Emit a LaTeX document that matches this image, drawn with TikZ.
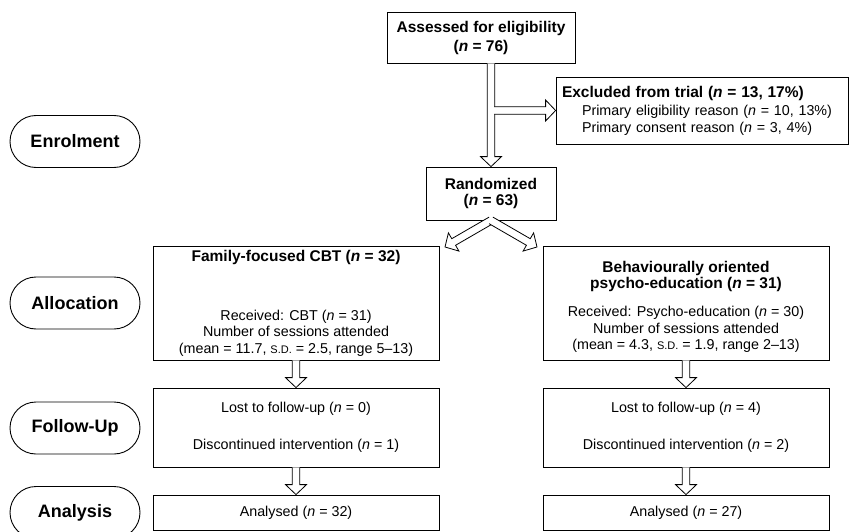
\documentclass[tikz,border=0pt]{standalone}
\usepackage{fontspec}
\setmainfont{Liberation Sans}
\usetikzlibrary{calc}

\newcommand{\bodyfont}{\fontsize{14.3}{16.5}\selectfont}
\newcommand{\hd}{\fontsize{15.5}{17}\selectfont\bfseries}
\newcommand{\nn}{\textit{n}}
\newcommand{\sdev}{{\fontsize{11}{12}\selectfont S.D.}}

\tikzset{
	box/.style={draw, line width=0.8pt, inner sep=0pt, align=center, font=\bodyfont},
	pill/.style={draw, line width=0.9pt, rounded corners=26pt, minimum width=130pt, minimum height=52pt, inner sep=0pt, font=\fontsize{18}{20}\selectfont\bfseries},
	hollow/.style={draw, fill=white, line width=0.8pt, line join=miter, to path={
		let \p1=(\tikztostart), \p2=(\tikztotarget),
		\n1={atan2(\y2-\y1,\x2-\x1)}, \n2={veclen(\x2-\x1,\y2-\y1)} in
		($(\p1)+(\n1:#1)+(\n1+90:3.8)$) -- ($(\p1)+(\n1:{\n2-10})+(\n1+90:3.8)$)
		-- ($(\p1)+(\n1:{\n2-10})+(\n1+90:10.5)$) -- (\p2)
		-- ($(\p1)+(\n1:{\n2-10})+(\n1-90:10.5)$) -- ($(\p1)+(\n1:{\n2-10})+(\n1-90:3.8)$)
		-- ($(\p1)+(\n1:#1)+(\n1-90:3.8)$)}},
	hollow/.default=0
}

\begin{document}
\begin{tikzpicture}[x=1pt, y=1pt]
	\useasboundingbox (0,0) rectangle (851,-532);

	% stages
	\node[pill] (enrol) at (75,-141.5) {Enrolment};
	\node[pill] (alloc) at (75,-303) {Allocation};
	\node[pill] (follow) at (75,-428) {Follow-Up};
	\node[pill] (analysis) at (75,-512.5) {Analysis};

	\node[box, minimum width=188pt, minimum height=51pt] (assess) at (481,-37.5)
		{{\hd Assessed for eligibility}\\[2.5pt]{\hd(\nn{} = 76)}};
	\node[box, align=left, text width=280pt, minimum width=292pt, minimum height=67pt] (excl) at (702,-110.5)
		{{\hd Excluded from trial (\nn{} = 13, 17\%)}\\[1.5pt]
		\hspace*{20pt}Primary eligibility reason (\nn{} = 10, 13\%)\\[0.5pt]
		\hspace*{20pt}Primary consent reason (\nn{} = 3, 4\%)};
	\node[box, minimum width=130pt, minimum height=53pt] (rand) at (491,-193.5)
		{{\hd Randomized}\\{\hd(\nn{} = 63)}};

	\node[box, minimum width=286pt, minimum height=114pt] (cbt) at (296,-303)
		{{\hd Family-focused CBT (\nn{} = 32)}\\[42.5pt]
		Received: CBT (\nn{} = 31)\\
		Number of sessions attended\\
		(mean = 11.7, \sdev{} = 2.5, range 5--13)};
	\node[box, minimum width=286pt, minimum height=114pt] (psy) at (686,-303)
		{{\hd\rule{0pt}{19pt}Behaviourally oriented}\\{\hd psycho-education (\nn{} = 31)}\\[11.5pt]
		Received: Psycho-education (\nn{} = 30)\\
		Number of sessions attended\\
		(mean = 4.3, \sdev{} = 1.9, range 2--13)};

	\node[box, minimum width=286pt, minimum height=79pt] (lostcbt) at (296,-427.5)
		{Lost to follow-up (\nn{} = 0)\\[20.5pt]Discontinued intervention (\nn{} = 1)};
	\node[box, minimum width=286pt, minimum height=79pt] (lostpsy) at (686,-427.5)
		{Lost to follow-up (\nn{} = 4)\\[20.5pt]Discontinued intervention (\nn{} = 2)};

	\node[box, minimum width=286pt, minimum height=35pt] (doncbt) at (296,-512.5) {Analysed (\nn{} = 32)};
	\node[box, minimum width=286pt, minimum height=35pt] (donpsy) at (686,-512.5) {Analysed (\nn{} = 27)};

	% hollow arrows
	\coordinate (top) at (rand.north |- assess.south);
	\coordinate (split) at (rand.north |- excl.west);
	\coordinate (tipcbt) at (445,-247);
	\coordinate (tippsy) at (537,-247);
	\draw[hollow] (top) to (rand.north);
	\draw[hollow=3] (split) to (excl.west);
	\draw[hollow] (rand.south) to (tipcbt);
	\draw[hollow] (rand.south) to (tippsy);
	\draw[hollow] (cbt.south) to (lostcbt.north);
	\draw[hollow] (psy.south) to (lostpsy.north);
	\draw[hollow] (lostcbt.south) to (doncbt.north);
	\draw[hollow] (lostpsy.south) to (donpsy.north);
\end{tikzpicture}
\end{document}
